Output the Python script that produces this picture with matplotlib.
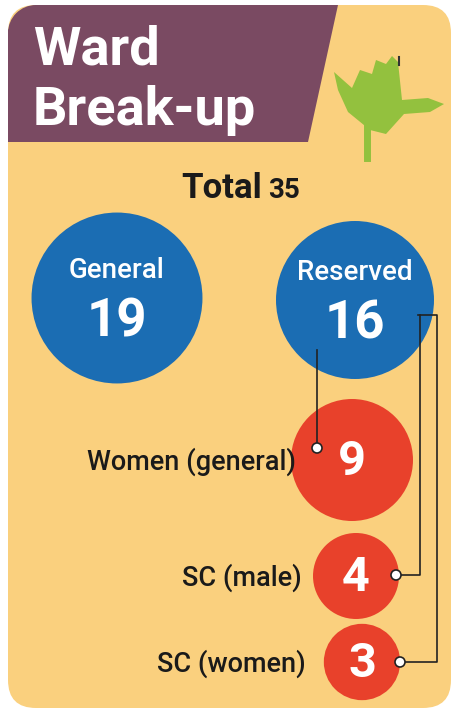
import numpy as np
import matplotlib.pyplot as plt
from matplotlib.patches import Circle, FancyBboxPatch, Polygon

# data
total = 35
main_labels = ["General", "Reserved"]
main_values = [19, 16]
sub_labels = ["Women (general)", "SC (male)", "SC (women)"]
sub_values = [9, 4, 3]

BG = "#FAD07E"
PURPLE = "#7A4A62"
BLUE = "#1B6DB3"
RED = "#E8412B"
GREEN = "#93C13E"


def radius(v):
    return 7 + 18 * np.sqrt(v)


fig = plt.figure(figsize=(4.59, 7.13), dpi=100)
ax = fig.add_axes([0, 0, 1, 1])
ax.set_xlim(0, 459)
ax.set_ylim(713, 0)
ax.axis("off")

ax.add_patch(FancyBboxPatch((8, 5), 443, 703, boxstyle="round,pad=0,rounding_size=28",
                            fc=BG, ec="none"))
# banner
ax.add_patch(Polygon([(8, 30), (8, 142), (308, 142), (338, 5), (36, 5)], closed=True,
                     fc=PURPLE, ec="none"))
ax.add_patch(Circle((36, 33), 28, fc=PURPLE, ec="none"))
ax.text(33, 50, "Ward", color="white", fontsize=39, fontweight="bold",
        family="Roboto", va="center")
ax.text(33, 110, "Break-up", color="white", fontsize=39, fontweight="bold",
        family="Roboto", va="center")

# hand icon
ax.add_patch(Polygon([(334, 72), (352, 88), (360, 70), (372, 74), (376, 60), (386, 64),
                      (392, 56), (398, 62), (402, 100), (428, 98), (444, 104), (430, 112),
                      (404, 114), (386, 134), (370, 130), (348, 112), (338, 90)],
                     closed=True, fc=GREEN, ec="none"))
ax.plot([367, 367], [128, 158], color=GREEN, lw=5)
ax.plot([399, 399], [57, 65], color="#333333", lw=1.5)

# total
ax.text(262, 188, "Total", fontsize=25, fontweight="bold", family="Roboto",
        ha="right", va="center", color="#1a1a1a")
ax.text(268, 190, str(total), fontsize=20, fontweight="bold", family="Roboto",
        ha="left", va="center", color="#1a1a1a")

# main circles
main_pos = [(117, 298), (355, 300)]
for (x, y), lab, v in zip(main_pos, main_labels, main_values):
    ax.add_patch(Circle((x, y), radius(v), fc=BLUE, ec="none"))
    ax.text(x, y - 28, lab, color="white", fontsize=20, family="Roboto",
            fontweight="medium", ha="center", va="center")
    ax.text(x, y + 24, str(v), color="white", fontsize=38, family="Roboto",
            fontweight="bold", ha="center", va="center")

# connector lines
lc = "#222222"
ax.plot([317, 317], [350, 448], color=lc, lw=1.2)
ax.plot([418, 437, 437, 400], [315, 315, 662, 662], color=lc, lw=1.2)
ax.plot([420, 420, 396], [315, 575, 575], color=lc, lw=1.2)

# sub circles
sub_pos = [(352, 460), (356, 576), (362, 662)]
label_x = [296, 302, 306]
dots = [(317, 448), (396, 575), (400, 662)]
for (x, y), lab, v, lx, d in zip(sub_pos, sub_labels, sub_values, label_x, dots):
    ax.add_patch(Circle((x, y), radius(v), fc=RED, ec="none"))
    ax.text(x, y + 2, str(v), color="white", fontsize=35, family="Roboto",
            fontweight="bold", ha="center", va="center")
    ax.text(lx, y + 2, lab, color="#1a1a1a", fontsize=19.5, family="Roboto",
            fontweight="medium", ha="right", va="center")
    ax.add_patch(Circle(d, 5, fc="white", ec=lc, lw=1.2, zorder=5))

fig.savefig("out.png", dpi=100)
